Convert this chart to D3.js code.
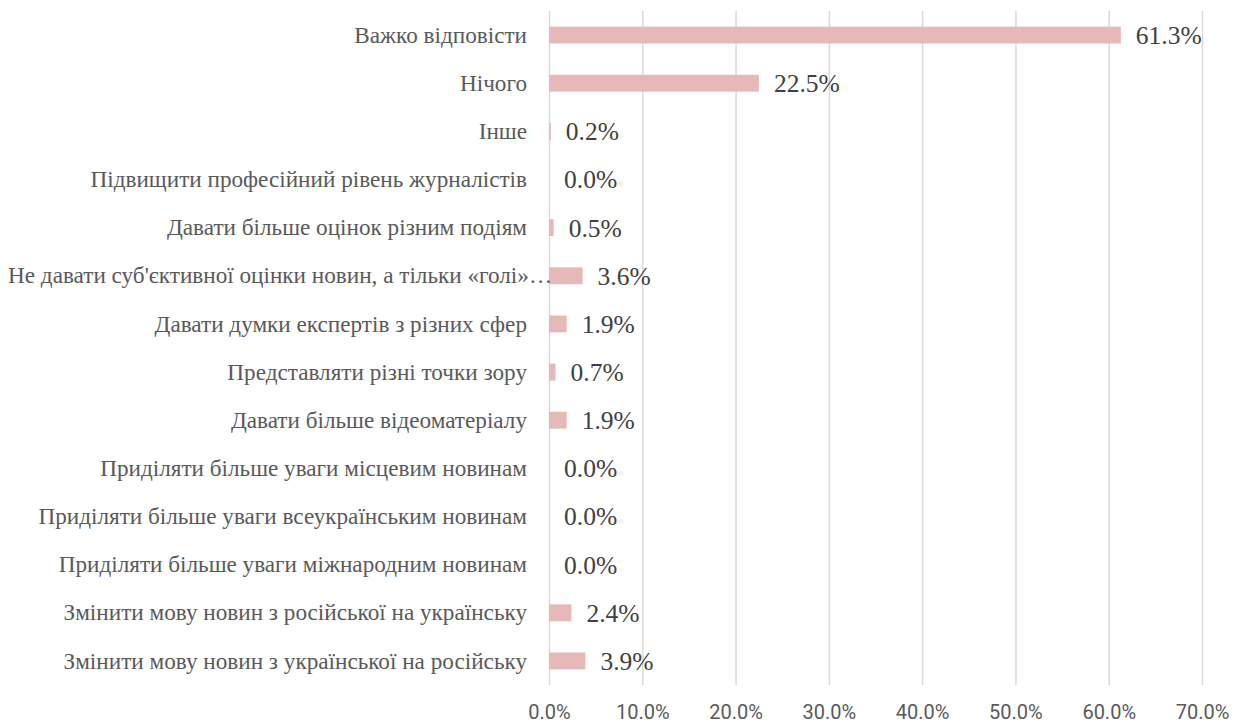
<!DOCTYPE html>
<html><head><meta charset="utf-8">
<script src="https://cdn.jsdelivr.net/npm/d3@7"></script>
<style>body{margin:0;background:#fff}</style>
</head><body><svg id="c" width="1234" height="724"></svg>
<script>
const categories = [
  "Важко відповісти",
  "Нічого",
  "Інше",
  "Підвищити професійний рівень журналістів",
  "Давати більше оцінок різним подіям",
  "Не давати суб'єктивної оцінки новин, а тільки «голі»…",
  "Давати думки експертів з різних сфер",
  "Представляти різні точки зору",
  "Давати більше відеоматеріалу",
  "Приділяти більше уваги місцевим новинам",
  "Приділяти більше уваги всеукраїнським новинам",
  "Приділяти більше уваги міжнародним новинам",
  "Змінити мову новин з російської на українську",
  "Змінити мову новин з української на російську"
];
const values = [61.3, 22.5, 0.2, 0.0, 0.5, 3.6, 1.9, 0.7, 1.9, 0.0, 0.0, 0.0, 2.4, 3.9];
const ticks = [0, 10, 20, 30, 40, 50, 60, 70];

const SERIF = '"Liberation Serif"';
const svg = d3.select("#c");
const x = d3.scaleLinear().domain([0, 70]).range([549, 1202]);
const y = d3.scaleBand().domain(categories).range([11, 685]).paddingInner(0.65).paddingOuter(0.325);

svg.append("g").selectAll("line").data(ticks).join("line")
  .attr("x1", d => x(d) + 0.5).attr("x2", d => x(d) + 0.5)
  .attr("y1", 11).attr("y2", 685)
  .attr("stroke", "#d9d9d9").attr("stroke-width", 1.5);

const xAxis = d3.axisBottom(x).tickValues(ticks).tickFormat(d => d.toFixed(1) + "%").tickSize(0).tickPadding(0);
const ax = svg.append("g").attr("transform", "translate(0,719)").call(xAxis);
ax.select(".domain").remove();
ax.attr("font-family", null).attr("font-size", null);
ax.selectAll("text").style("font-family", "Roboto").style("font-size", "20px")
  .attr("fill", "#595959").attr("y", 0).attr("dy", 0);

svg.append("g").selectAll("rect").data(values).join("rect")
  .attr("x", x(0)).attr("y", (d, i) => y(categories[i]))
  .attr("width", d => x(d) - x(0)).attr("height", y.bandwidth())
  .attr("fill", "#e6b8b7");

svg.append("g").selectAll("text").data(values).join("text")
  .style("font-family", SERIF).style("font-size", "25.5px").attr("fill", "#404040")
  .attr("x", d => x(d) + 15).attr("y", (d, i) => y(categories[i]) + y.bandwidth() / 2)
  .attr("dy", "0.35em").text(d => d.toFixed(1) + "%");

const labelRight = 527, labelMinLeft = 8;
svg.append("g").selectAll("text").data(categories).join("text")
  .style("font-family", SERIF).style("font-size", "23.2px").attr("fill", "#595959")
  .attr("y", d => y(d) + y.bandwidth() / 2).attr("dy", "0.33em")
  .attr("text-anchor", "end").text(d => d)
  .attr("x", function() {
    const w = this.getComputedTextLength();
    return Math.max(labelRight, labelMinLeft + w);
  });
</script></body></html>
